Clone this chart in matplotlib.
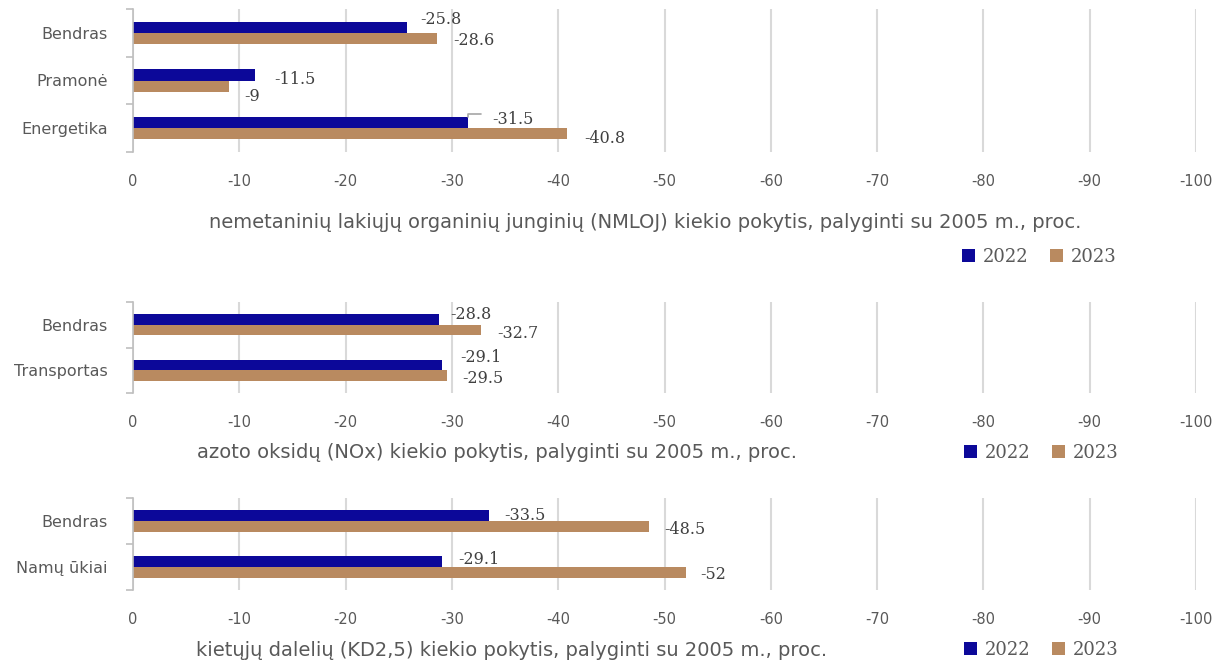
import matplotlib
matplotlib.use("Agg")
import matplotlib.pyplot as plt
from matplotlib.patches import Patch

# ---- data ----
series_names = ["2022", "2023"]

cats_nmloj = ["Bendras", "Pramonė", "Energetika"]
nmloj_2022 = [-25.8, -11.5, -31.5]
nmloj_2023 = [-28.6, -9, -40.8]
title_nmloj = "nemetaninių lakiųjų organinių junginių (NMLOJ) kiekio pokytis, palyginti su 2005 m., proc."

cats_nox = ["Bendras", "Transportas"]
nox_2022 = [-28.8, -29.1]
nox_2023 = [-32.7, -29.5]
title_nox = "azoto oksidų (NOx) kiekio pokytis, palyginti su 2005 m., proc."

cats_kd = ["Bendras", "Namų ūkiai"]
kd_2022 = [-33.5, -29.1]
kd_2023 = [-48.5, -52]
title_kd = "kietųjų dalelių (KD2,5) kiekio pokytis, palyginti su 2005 m., proc."

xticks = [0, -10, -20, -30, -40, -50, -60, -70, -80, -90, -100]

# ---- style ----
C22 = "#0c0899"
C23 = "#b98a60"
GRID = "#d9d9d9"
TXT = "#595959"
LBL = "#404040"
SANS = ["DejaVu Sans"]
SERIF = ["DejaVu Serif"]

# data-label nudges in pixels (dx right of bar end, dy downward from bar centre)
nudge_nmloj = ([(13, -8), (19, 5), (24, 3)], [(16, 2.5), (16, 10), (18, 5)])
nudge_nox = ([(11, -5), (18, -7)], [(17, 3), (16, 3)])
nudge_kd = ([(15, 0), (16, -2.5)], [(16, 3), (14, 2)])

W, H = 1217, 662
fig = plt.figure(figsize=(W / 100, H / 100), dpi=100)
PT = 0.72  # points per pixel at dpi 100


def px_axes(left, top, right, bottom):
    return fig.add_axes([left / W, 1 - bottom / H, (right - left) / W, (bottom - top) / H])


def panel(ax, cats, v22, v23, nudges, leader_idx=None):
    n = len(cats)
    h = 0.235
    ys = list(range(n))
    ax.barh([y - h / 2 for y in ys], v22, height=h, color=C22, zorder=3)
    ax.barh([y + h / 2 for y in ys], v23, height=h, color=C23, zorder=3)
    ax.set_xlim(0, -100)
    ax.set_ylim(n - 0.5, -0.5)
    ax.set_xticks(xticks)
    ax.set_xticklabels([f"{t}" for t in xticks], fontsize=10.5, color=TXT, family=SANS)
    ax.set_yticks(ys)
    ax.set_yticklabels(cats, fontsize=11.5, color=TXT, family=SANS)
    ax.set_yticks([y - 0.5 for y in range(n + 1)], minor=True)
    ax.tick_params(axis="y", which="major", length=0, pad=18)
    ax.tick_params(axis="y", which="minor", length=5, color="#bfbfbf", width=1.2)
    ax.tick_params(axis="x", length=0, pad=16)
    ax.grid(axis="x", color=GRID, linewidth=1.5, zorder=0)
    for s in ["top", "right", "bottom"]:
        ax.spines[s].set_visible(False)
    ax.spines["left"].set_color("#bfbfbf")
    ax.spines["left"].set_linewidth(1.2)
    ax.spines["left"].set_zorder(4)
    n22, n23 = nudges
    for i, (a, b) in enumerate(zip(v22, v23)):
        dx, dy = n22[i]
        if leader_idx == i:
            ax.annotate(f"{a:g}", xy=(a, i - h), xytext=(dx * PT, -dy * PT), textcoords="offset points",
                        va="center", ha="left", fontsize=11.5, color=LBL, family=SERIF, zorder=5,
                        arrowprops=dict(arrowstyle="-", color="#a6a6a6", lw=1.2,
                                        connectionstyle="angle,angleA=0,angleB=90,rad=0",
                                        relpos=(0, 0.85), shrinkA=6, shrinkB=0))
        else:
            ax.annotate(f"{a:g}", xy=(a, i - h / 2), xytext=(dx * PT, -dy * PT), textcoords="offset points",
                        va="center", ha="left", fontsize=11.5, color=LBL, family=SERIF)
        dx, dy = n23[i]
        ax.annotate(f"{b:g}", xy=(b, i + h / 2), xytext=(dx * PT, -dy * PT), textcoords="offset points",
                    va="center", ha="left", fontsize=11.5, color=LBL, family=SERIF)


def legend_at(xc, yc):
    handles = [Patch(facecolor=C22), Patch(facecolor=C23)]
    fig.legend(handles, series_names, loc="center", bbox_to_anchor=(xc / W, 1 - yc / H),
               ncol=2, frameon=False, handlelength=0.75, handleheight=0.75,
               handletextpad=0.4, columnspacing=1.2,
               prop=dict(family=SERIF, size=13), labelcolor=TXT)


ax1 = px_axes(133, 9, 1196, 152)
panel(ax1, cats_nmloj, nmloj_2022, nmloj_2023, nudge_nmloj, leader_idx=2)
fig.text(645 / W, 1 - 222 / H, title_nmloj, ha="center", va="center", fontsize=14, color=TXT, family=SANS)
legend_at(1039, 257)

ax2 = px_axes(133, 302, 1196, 393)
panel(ax2, cats_nox, nox_2022, nox_2023, nudge_nox)
fig.text(497 / W, 1 - 453 / H, title_nox, ha="center", va="center", fontsize=14, color=TXT, family=SANS)
legend_at(1041, 453)

ax3 = px_axes(133, 498, 1196, 590)
panel(ax3, cats_kd, kd_2022, kd_2023, nudge_kd)
fig.text(512 / W, 1 - 650 / H, title_kd, ha="center", va="center", fontsize=14, color=TXT, family=SANS)
legend_at(1041, 650)

fig.savefig("out.png", dpi=100)
